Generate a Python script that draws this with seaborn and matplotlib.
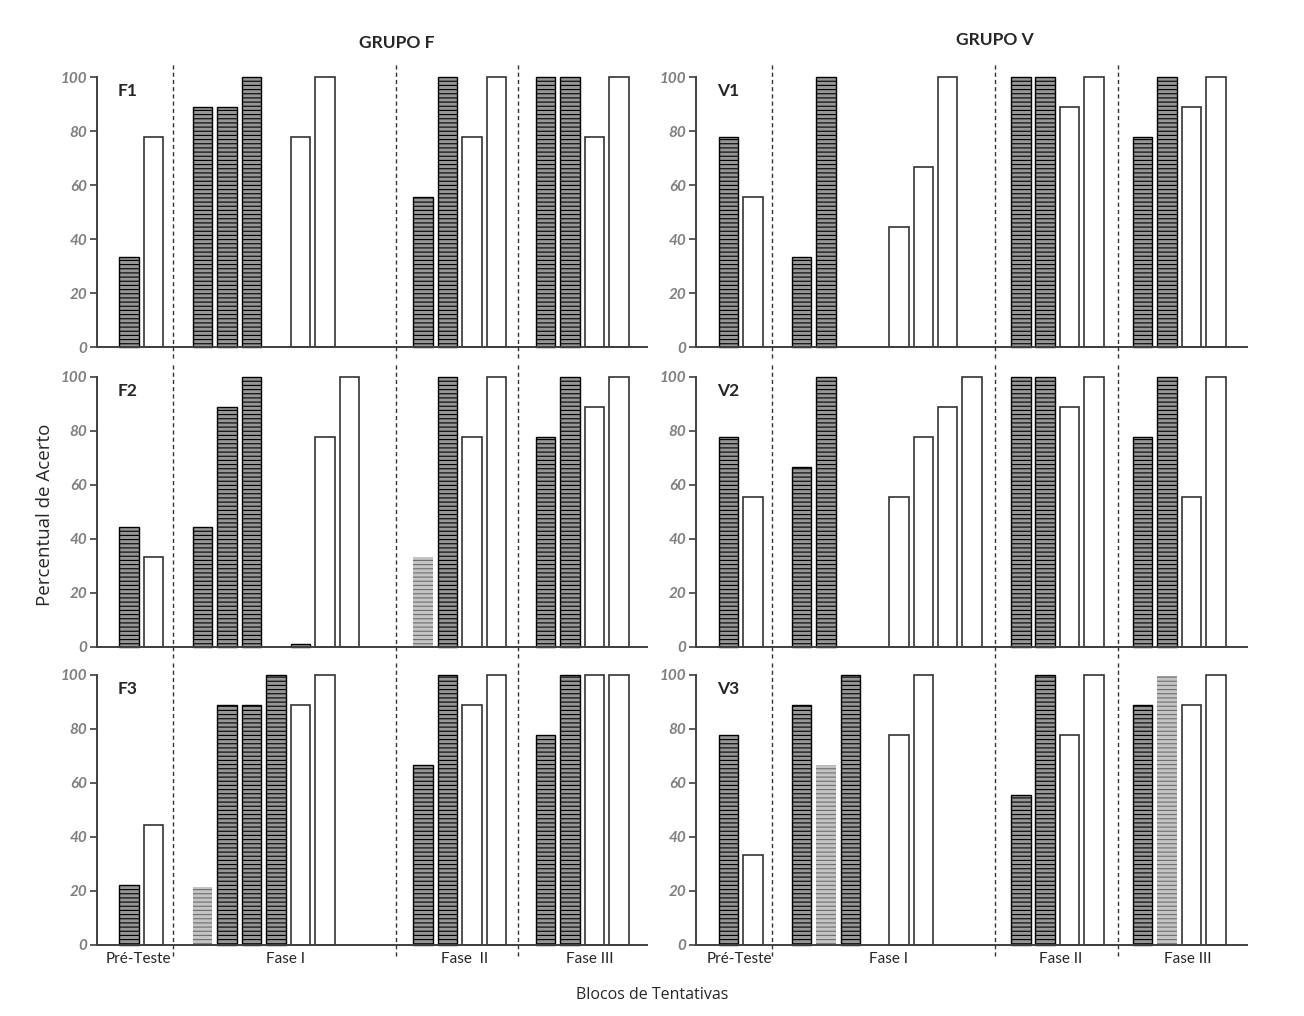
import matplotlib
matplotlib.use('Agg')
import pandas as pd
import seaborn as sns
import matplotlib.pyplot as plt
from matplotlib import font_manager

# x slot of every bar, its height (% de acerto) and its kind
# H = striped bar, L = light striped bar, W = white bar
F1_slots = [0, 1, 3, 4, 5, 7, 8, 12, 13, 14, 15, 17, 18, 19, 20]
F1_vals = [33.3, 77.8, 88.9, 88.9, 100, 77.8, 100, 55.6, 100, 77.8, 100, 100, 100, 77.8, 100]
F1_kind = 'HWHHHWWHHWWHHWW'

F2_slots = [0, 1, 3, 4, 5, 7, 8, 9, 12, 13, 14, 15, 17, 18, 19, 20]
F2_vals = [44.4, 33.3, 44.4, 88.9, 100, 1.2, 77.8, 100, 33.3, 100, 77.8, 100, 77.8, 100, 88.9, 100]
F2_kind = 'HWHHHHWWLHWWHHWW'

F3_slots = [0, 1, 3, 4, 5, 6, 7, 8, 12, 13, 14, 15, 17, 18, 19, 20]
F3_vals = [22.2, 44.4, 21.3, 88.9, 88.9, 100, 88.9, 100, 66.7, 100, 88.9, 100, 77.8, 100, 100, 100]
F3_kind = 'HWLHHHWWHHWWHHWW'

V1_slots = [0, 1, 3, 4, 7, 8, 9, 12, 13, 14, 15, 17, 18, 19, 20]
V1_vals = [77.8, 55.6, 33.3, 100, 44.4, 66.7, 100, 100, 100, 88.9, 100, 77.8, 100, 88.9, 100]
V1_kind = 'HWHHWWWHHWWHHWW'

V2_slots = [0, 1, 3, 4, 7, 8, 9, 10, 12, 13, 14, 15, 17, 18, 19, 20]
V2_vals = [77.8, 55.6, 66.7, 100, 55.6, 77.8, 88.9, 100, 100, 100, 88.9, 100, 77.8, 100, 55.6, 100]
V2_kind = 'HWHHWWWWHHWWHHWW'

V3_slots = [0, 1, 3, 4, 5, 7, 8, 12, 13, 14, 15, 17, 18, 19, 20]
V3_vals = [77.8, 33.3, 88.9, 66.7, 100, 77.8, 100, 55.6, 100, 77.8, 100, 88.9, 99.5, 88.9, 100]
V3_kind = 'HWHLHWWHHWWHLWW'

PANEL_NAMES = ['F1', 'F2', 'F3', 'V1', 'V2', 'V3']
GROUP_TITLES = ['GRUPO F', 'GRUPO V']
PHASE_LABELS_F = ['Pré-Teste', 'Fase I', 'Fase  II', 'Fase III']
PHASE_LABELS_V = ['Pré-Teste', 'Fase I', 'Fase II', 'Fase III']
N_SLOTS = 21

sns.set_style('ticks')
names = {f.name for f in font_manager.fontManager.ttflist}
main_font = 'Lato' if 'Lato' in names else 'DejaVu Sans'
label_font = 'Open Sans' if 'Open Sans' in names else 'DejaVu Sans'
plt.rcParams['font.family'] = [main_font, 'DejaVu Sans']
plt.rcParams['hatch.linewidth'] = 0.8

STYLES = {
    'H': dict(color='#969696', edgecolor='black', linewidth=1.0, hatch='----'),
    'L': dict(color='#c4c4c4', edgecolor='#6e6e6e', linewidth=0, hatch='----'),
    'W': dict(color='white', edgecolor='#333333', linewidth=1.2, hatch=None),
}


def draw_panel(ax, slots, vals, kinds, name, seps, xlim, phase_pos=None, phase_labels=None):
    df = pd.DataFrame({'slot': slots, 'val': vals, 'kind': list(kinds)})
    for kind, st in STYLES.items():
        sub = df[df['kind'] == kind]
        if sub.empty:
            continue
        sns.barplot(data=sub, x='slot', y='val', order=list(range(N_SLOTS)),
                    saturation=1, width=0.8, errorbar=None, ax=ax, **st)
    for p in ax.patches:
        p.set_clip_on(False)

    for s in seps:
        ax.plot([s, s], [-4, 105.5], ls=(0, (3, 2.2)), color='#333333', lw=1.0, clip_on=False)

    ax.set_xlim(xlim)
    ax.set_ylim(0, 100)
    ax.set_yticks(range(0, 101, 20))
    ax.set_yticklabels([str(v) for v in range(0, 101, 20)], color='#7f7f7f',
                       fontweight='bold', fontstyle='italic', fontsize=11)
    ax.tick_params(axis='y', length=5, width=1.2, color='#404040', pad=2)
    if phase_pos is None:
        ax.set_xticks([])
    else:
        ax.set_xticks(phase_pos)
        ax.set_xticklabels(phase_labels, fontsize=11)
        ax.tick_params(axis='x', length=0, pad=5)
    ax.set_xlabel('')
    ax.set_ylabel('')
    sns.despine(ax=ax)
    for sp in ['left', 'bottom']:
        ax.spines[sp].set_linewidth(1.4)
        ax.spines[sp].set_color('#404040')
    ax.text(xlim[0] + 0.85, 95, name, fontsize=12.5, fontweight='bold', ha='left', va='center')


fig = plt.figure(figsize=(13.04, 10.16), dpi=100)
W, H = 1304, 1016

col_x = [(97, 550), (696, 551)]
row_bottom = [347, 647, 945]
panel_h = 270

data = [
    (F1_slots, F1_vals, F1_kind), (F2_slots, F2_vals, F2_kind), (F3_slots, F3_vals, F3_kind),
    (V1_slots, V1_vals, V1_kind), (V2_slots, V2_vals, V2_kind), (V3_slots, V3_vals, V3_kind),
]
seps_col = [[1.8, 10.9, 15.9], [1.8, 10.95, 16.0]]
xlim_col = [(-1.3, 21.15), (-1.33, 21.28)]
phase_col = [[0.4, 6.4, 13.7, 18.8], [0.45, 6.55, 13.65, 18.85]]
phase_lab_col = [PHASE_LABELS_F, PHASE_LABELS_V]

for i, (slots, vals, kinds) in enumerate(data):
    c, r = divmod(i, 3)
    x0, w = col_x[c]
    ax = fig.add_axes([x0 / W, 1 - row_bottom[r] / H, w / W, panel_h / H])
    if r == 2:
        draw_panel(ax, slots, vals, kinds, PANEL_NAMES[i], seps_col[c], xlim_col[c],
                   phase_col[c], phase_lab_col[c])
    else:
        draw_panel(ax, slots, vals, kinds, PANEL_NAMES[i], seps_col[c], xlim_col[c])

fig.text(397 / W, 1 - 43 / H, GROUP_TITLES[0], fontsize=12.5, fontweight='bold', ha='center', va='center')
fig.text(995 / W, 1 - 40 / H, GROUP_TITLES[1], fontsize=12.5, fontweight='bold', ha='center', va='center')
fig.text(45 / W, 1 - 515 / H, 'Percentual de Acerto', rotation=90, fontsize=13.5,
         family=label_font, ha='center', va='center')
fig.text(652 / W, 1 - 995 / H, 'Blocos de Tentativas', fontsize=11.5,
         family=label_font, ha='center', va='center')

fig.savefig('out.png', dpi=100)
